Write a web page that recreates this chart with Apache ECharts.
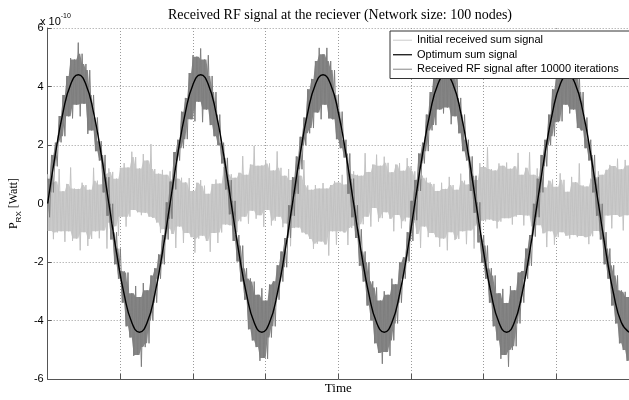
<!DOCTYPE html>
<html>
<head>
<meta charset="utf-8">
<script src="https://cdn.jsdelivr.net/npm/echarts@6/dist/echarts.min.js"></script>
<style>
  html, body { margin: 0; padding: 0; background: #fff; }
  #chart { width: 629px; height: 400px; }
</style>
</head>
<body>
<div id="chart"></div>
<script>
// Time axis: unlabeled, sampled uniformly over the observation window
const TIME_SPAN = 800;
const TIME_TICK = 100;

// Power axis ticks (units of 1e-10 W)
const yTickValues = [-6, -4, -2, 0, 2, 4, 6];

const seriesNames = {
  initial: 'Initial received sum signal',
  optimum: 'Optimum sum signal',
  received: 'Received RF signal after 10000 iterations'
};

// Optimum (fully coherent) sum signal
const optimumSum = [
  0, 1.68, 3.11, 4.07, 4.40, 4.07, 3.11, 1.68, 0, -1.68, -3.11, -4.07, -4.40, -4.07, -3.11, -1.68,
  0, 1.68, 3.11, 4.07, 4.40, 4.07, 3.11, 1.68, 0, -1.68, -3.11, -4.07, -4.40, -4.07, -3.11, -1.68,
  0, 1.68, 3.11, 4.07, 4.40, 4.07, 3.11, 1.68, 0, -1.68, -3.11, -4.07, -4.40, -4.07, -3.11, -1.68,
  0, 1.68, 3.11, 4.07, 4.40, 4.07, 3.11, 1.68, 0, -1.68, -3.11, -4.07, -4.40, -4.07, -3.11, -1.68,
  0, 1.68, 3.11, 4.07, 4.40, 4.07, 3.11, 1.68, 0, -1.68, -3.11, -4.07, -4.40
];

// Initial (unsynchronised) received sum signal
const initialSum = [
  1.00, -0.94, 0.72, -1.22, 0.75, -0.99, 1.18, -0.95, 0.42, -1.31, 0.67, -0.95, 1.23, -1.28, 0.51, -1.20,
  0.50, -1.60, 0.71, -0.98, 0.63, -1.45, 0.47, -1.21, 1.22, -0.95, 0.78, -1.19, 0.65, -0.92, 1.02, -1.54,
  1.20, -0.66, 1.08, -0.78, 0.85, -1.11, 1.22, -0.45, 1.38, -0.79, 1.23, -0.45, 1.77, -0.22, 1.59, -0.30,
  1.20, -0.40, 1.69, -0.32, 1.47, -0.45, 2.03, -0.49, 1.18, -0.65, 1.02, -1.01, 1.15, -0.88, 0.98, -0.86,
  1.10, -1.04, 0.82, -1.52, 0.85, -0.79, 0.88, -1.35, 0.72, -1.01, 0.87, -1.15, 0.43, -1.68, 0.71, -1.20,
  0.80, -1.10, 0.61, -1.28, 0.33, -1.65, 0.67, -1.01, 0.82, -1.35, 0.68, -0.99, 1.25, -0.72, 1.12, -0.74,
  1.00, -0.86, 0.88, -0.98, 1.05, -0.61, 1.62, -0.45, 0.98, -0.69, 1.33, -0.25, 1.97, -0.52, 1.29, -0.40,
  1.30, -0.80, 1.49, -0.22, 1.37, -0.75, 1.13, -0.59, 1.78, -0.45, 1.22, -0.81, 0.95, -0.68, 1.18, -1.46,
  0.80, -0.84, 1.22, -0.82, 0.95, -0.99, 1.48, -1.05, 0.62, -1.21, 0.47, -1.55, 0.63, -1.38, 0.51, -1.30,
  0.70, -1.40, 0.51, -1.78, 0.63, -0.95, 0.77, -1.41, 0.72, -0.95, 0.98, -0.99, 0.65, -1.42, 1.02, -0.84,
  1.10, -0.76, 0.98, -0.88, 0.95, -0.71, 1.72, -0.45, 1.08, -0.79, 1.33, -0.15, 1.67, -0.62, 1.29, -0.50,
  1.60, -0.30, 1.39, -0.52, 1.07, -0.95, 1.33, -0.39, 1.38, -0.85, 1.12, -0.61, 1.55, -0.48, 1.28, -0.66,
  1.10, -1.04, 0.82, -1.52, 0.95, -0.79, 0.88, -1.15, 0.72, -1.01, 0.67, -1.15, 0.43, -1.48, 0.71, -1.20,
  0.50, -1.60, 0.91, -0.98, 0.63, -1.25, 0.47, -1.21, 1.02, -0.95, 0.78, -1.39, 0.65, -0.92, 1.02, -1.54,
  0.80, -0.76, 1.38, -0.58, 1.25, -0.61, 1.92, -0.55, 1.18, -0.59, 1.13, -0.85, 1.37, -0.62, 1.29, -0.50,
  1.40, -0.50, 1.19, -0.72, 1.27, -0.45, 1.73, -0.39, 0.98, -0.75, 1.22, -0.41, 1.75, -0.78, 0.98, -0.76,
  1.20, -0.74, 0.92, -1.02, 0.55, -1.49, 0.78, -0.95, 0.82, -1.41, 0.57, -1.15, 1.03, -0.98, 0.81, -1.10,
  0.40, -1.20, 0.91, -1.08, 0.73, -1.15, 1.37, -1.11, 0.62, -1.15, 0.58, -1.39, 0.85, -1.12, 0.82, -0.94,
  1.10, -0.96, 0.98, -1.28, 1.15, -0.41, 1.32, -0.85, 1.28, -0.39, 1.53, -0.45, 1.17, -0.92, 1.49, -0.40,
  1.30
];

// Received RF signal after 10000 iterations
const receivedAfter = [
  0.85, -0.47, 1.66, 0.38, 2.08, 1.27, 2.99, 2.09, 3.71, 2.30, 4.36, 2.98, 4.97, 2.91, 4.92, 3.38,
  5.50, 2.98, 5.12, 3.41, 4.77, 2.38, 4.56, 2.50, 3.71, 1.79, 2.94, 1.47, 2.13, 0.38, 1.66, -0.42,
  0.90, -1.23, -0.01, -2.08, -0.98, -2.57, -1.54, -3.39, -2.31, -4.20, -2.36, -4.58, -3.07, -5.21, -2.82, -5.18,
  -3.20, -5.58, -2.72, -4.91, -2.97, -4.78, -2.46, -4.00, -2.21, -3.39, -1.74, -2.57, -1.08, -2.08, 0.04, -1.23,
  0.75, -0.52, 1.76, 0.48, 2.18, 1.47, 3.14, 1.89, 3.61, 2.20, 4.46, 2.88, 5.07, 2.81, 5.02, 3.48,
  5.30, 2.78, 4.92, 3.21, 5.07, 2.68, 4.36, 2.30, 3.81, 1.99, 3.04, 1.37, 2.08, 0.48, 1.56, -0.37,
  0.80, -1.28, 0.09, -1.98, -1.08, -2.67, -1.44, -3.29, -2.21, -4.30, -2.56, -4.68, -2.67, -4.91, -3.12, -5.38,
  -2.90, -5.28, -3.32, -5.31, -2.77, -4.58, -2.66, -4.20, -2.11, -3.29, -1.64, -2.67, -1.18, -2.18, -0.06, -1.18,
  0.90, -0.42, 1.61, 0.33, 2.28, 1.17, 2.94, 1.99, 3.91, 2.40, 4.26, 2.58, 4.87, 3.11, 5.32, 2.88,
  5.10, 3.38, 5.32, 2.91, 4.87, 2.88, 4.56, 2.20, 3.71, 1.89, 3.14, 1.57, 2.18, 0.33, 1.71, -0.47,
  0.85, -1.18, -0.06, -2.13, -0.88, -2.67, -1.64, -3.49, -2.01, -4.00, -2.66, -4.78, -2.87, -5.11, -3.32, -5.48,
  -3.00, -5.08, -3.12, -5.21, -2.57, -4.68, -2.76, -4.10, -2.01, -3.39, -1.84, -2.57, -0.98, -1.98, 0.09, -1.28,
  0.80, -0.57, 1.71, 0.43, 2.08, 1.37, 3.04, 1.79, 3.81, 2.50, 4.56, 2.68, 4.77, 3.21, 5.52, 3.08,
  5.20, 3.28, 5.22, 2.71, 4.67, 2.98, 4.66, 2.40, 3.61, 1.79, 3.04, 1.47, 2.18, 0.43, 1.61, -0.32,
  0.95, -1.33, 0.04, -2.03, -1.08, -2.57, -1.44, -3.39, -2.21, -4.20, -2.46, -4.68, -3.07, -5.31, -2.92, -5.18,
  -3.40, -5.58, -2.82, -5.01, -2.97, -4.88, -2.36, -4.10, -2.31, -3.39, -1.54, -2.57, -1.08, -2.13, -0.01, -1.13,
  0.85, -0.47, 1.66, 0.38, 2.18, 1.27, 3.04, 1.99, 3.91, 2.30, 4.36, 2.78, 5.07, 2.81, 5.12, 3.38,
  5.40, 3.08, 5.02, 3.21, 4.97, 2.58, 4.46, 2.50, 3.81, 1.89, 2.94, 1.47, 2.18, 0.38, 1.66, -0.42,
  0.90, -1.23, -0.01, -2.08, -0.98, -2.57, -1.54, -3.49, -2.11, -4.10, -2.46, -4.78, -2.97, -5.01, -3.02, -5.38,
  -3.20
];

// Samples are spread evenly over the time window
function sampleTimes(count) {
  const step = TIME_SPAN / (count - 1);
  return Array.from({ length: count }, (_, i) => i * step);
}

function withTime(values) {
  const t = sampleTimes(values.length);
  return values.map((v, i) => [t[i], v]);
}

// Dense core of a noisy trace: the inner envelope of neighbouring swings,
// so that isolated spikes stay visible only as the thin trace itself
function coreEnvelope(values) {
  const n = values.length;
  const segHi = [], segLo = [];
  for (let i = 0; i < n - 1; i++) {
    segHi.push(Math.max(values[i], values[i + 1]));
    segLo.push(Math.min(values[i], values[i + 1]));
  }
  const t = sampleTimes(n);
  const rows = [];
  for (let i = 0; i < n; i++) {
    const idx = [i - 1, i, i + 1].filter(j => j >= 0 && j < n - 1);
    const h = Math.min(...idx.map(j => segHi[j]));
    const l = Math.max(...idx.map(j => segLo[j]));
    rows.push([t[i], Math.min(h, l), Math.max(h, l)]);
  }
  return rows;
}

// The whole band is drawn as one polygon, through the cartesian coordinate system
function renderBand(params, api) {
  if (params.dataIndexInside !== 0) return null;
  const n = params.dataInsideLength;
  const upper = [], lower = [];
  for (let k = 0; k < n; k++) {
    const t = api.value(0, k);
    upper.push(api.coord([t, api.value(2, k)]));
    lower.push(api.coord([t, api.value(1, k)]));
  }
  return {
    type: 'polygon',
    shape: { points: upper.concat(lower.reverse()) },
    style: { fill: api.visual('color'), stroke: null }
  };
}

// Filled core band + thin trace for a noisy signal
function noisySeries(name, values, fill, stroke, z) {
  return [
    {
      name: name + ' core',
      type: 'custom',
      data: coreEnvelope(values),
      encode: { x: 0, y: [1, 2] },
      renderItem: renderBand,
      itemStyle: { color: fill },
      silent: true,
      clip: true,
      z: z
    },
    {
      name: name,
      type: 'line',
      data: withTime(values),
      symbol: 'none',
      z: z,
      itemStyle: { color: stroke },
      lineStyle: { color: stroke, width: 1, join: 'bevel' }
    }
  ];
}

const gridColor = '#9a9a9a';
const axisColor = '#555';

const chart = echarts.init(document.getElementById('chart'), null, { renderer: 'canvas' });

chart.setOption({
  animation: false,
  backgroundColor: '#fff',
  title: [
    {
      text: 'Received RF signal at the reciever (Network size: 100 nodes)',
      left: 335,
      top: 3,
      textAlign: 'center',
      textStyle: { fontFamily: 'Liberation Serif', fontSize: 14, fontWeight: 'normal', color: '#000' }
    },
    {
      text: '{a|x 10}{b|-10}',
      left: 40,
      top: 13,
      padding: 0,
      textStyle: {
        fontWeight: 'normal',
        rich: {
          a: { fontFamily: 'Liberation Sans', fontSize: 11, fontWeight: 'normal', color: '#000', lineHeight: 14, verticalAlign: 'bottom' },
          b: { fontFamily: 'Liberation Sans', fontSize: 7, fontWeight: 'normal', color: '#000', lineHeight: 14, verticalAlign: 'top' }
        }
      }
    }
  ],
  legend: {
    orient: 'vertical',
    left: 390,
    top: 31,
    padding: [2, 20, 2, 3],
    icon: 'rect',
    itemWidth: 19,
    itemHeight: 1.2,
    itemGap: 0,
    borderColor: '#333',
    borderWidth: 1,
    backgroundColor: '#fff',
    textStyle: { fontFamily: 'Liberation Sans', fontSize: 11, color: '#000', lineHeight: 14.5 },
    data: [
      { name: seriesNames.initial, itemStyle: { color: '#d4d4d4' } },
      { name: seriesNames.optimum, itemStyle: { color: '#000' } },
      { name: seriesNames.received, itemStyle: { color: '#9a9a9a' } }
    ]
  },
  grid: { left: 41, right: -2, top: 28, bottom: 21, containLabel: false },
  xAxis: [
    {
      type: 'value',
      position: 'bottom',
      min: 0,
      max: TIME_SPAN,
      interval: TIME_TICK,
      name: 'Time',
      nameLocation: 'middle',
      nameGap: 3,
      nameTextStyle: { fontFamily: 'Liberation Serif', fontSize: 13, color: '#000', verticalAlign: 'top' },
      axisLine: { show: true, onZero: false, lineStyle: { color: axisColor, width: 1 } },
      axisTick: { show: true, inside: true, length: 5, lineStyle: { color: axisColor } },
      axisLabel: { show: false },
      splitLine: { show: true, lineStyle: { color: gridColor, width: 1, type: [1, 2] } }
    },
    {
      type: 'value',
      position: 'top',
      min: 0,
      max: TIME_SPAN,
      interval: TIME_TICK,
      axisLine: { show: false },
      axisTick: { show: true, inside: true, length: 5, lineStyle: { color: axisColor } },
      axisLabel: { show: false },
      splitLine: { show: false }
    }
  ],
  yAxis: {
    type: 'value',
    min: yTickValues[0],
    max: yTickValues[yTickValues.length - 1],
    interval: yTickValues[1] - yTickValues[0],
    name: '{p|P}{s|RX}{w| [Watt]}',
    nameLocation: 'middle',
    nameRotate: 90,
    nameGap: 22,
    nameTextStyle: {
      rich: {
        p: { fontFamily: 'Liberation Serif', fontSize: 12, color: '#000', lineHeight: 18, verticalAlign: 'middle' },
        s: { fontFamily: 'Liberation Sans', fontSize: 8, color: '#000', lineHeight: 18, verticalAlign: 'bottom' },
        w: { fontFamily: 'Liberation Serif', fontSize: 12, color: '#000', lineHeight: 18, verticalAlign: 'middle' }
      }
    },
    axisLine: { show: true, onZero: false, lineStyle: { color: axisColor, width: 1 } },
    axisTick: { show: true, inside: true, length: 4, lineStyle: { color: axisColor } },
    axisLabel: { margin: 4, fontFamily: 'Liberation Sans', fontSize: 11, color: '#000' },
    splitLine: { show: true, lineStyle: { color: gridColor, width: 1, type: [1, 2] } }
  },
  series: [
    ...noisySeries(seriesNames.initial, initialSum, '#cacaca', '#c2c2c2', 1),
    ...noisySeries(seriesNames.received, receivedAfter, '#858585', '#7e7e7e', 2),
    {
      name: seriesNames.optimum,
      type: 'line',
      data: withTime(optimumSum),
      symbol: 'none',
      smooth: 0.5,
      z: 3,
      itemStyle: { color: '#000' },
      lineStyle: { color: '#000', width: 1.4 }
    }
  ]
});
</script>
</body>
</html>
